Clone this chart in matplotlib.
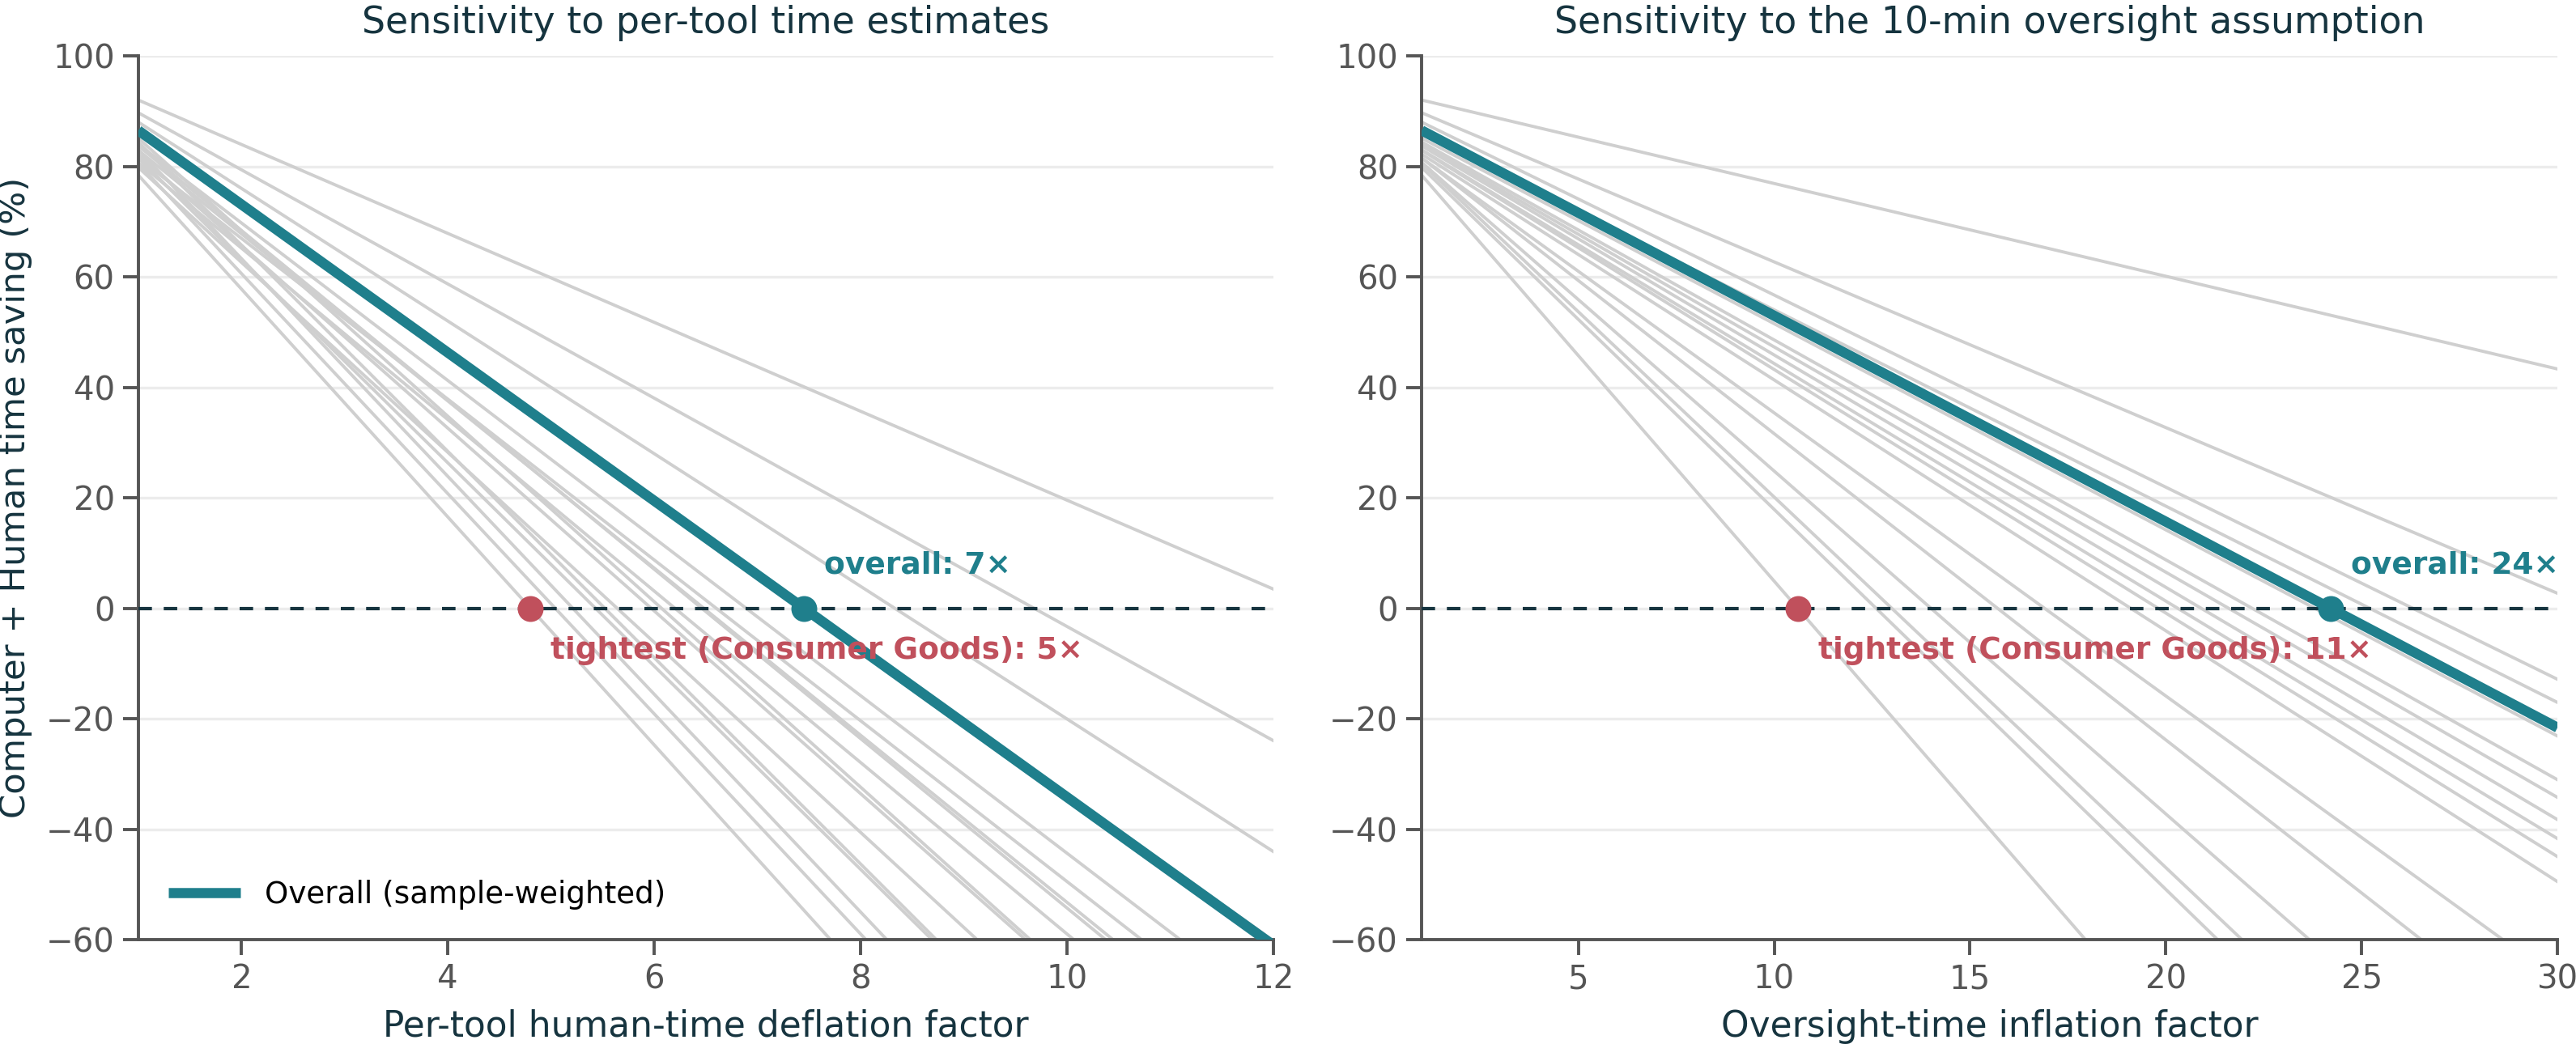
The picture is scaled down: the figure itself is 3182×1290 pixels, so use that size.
import numpy as np
import matplotlib
matplotlib.use("Agg")
from matplotlib import pyplot as plt

# baseline saving (%) at factor = 1, one entry per category
baseline = [92.0, 89.7, 88.0, 86.0, 85.1, 84.4, 84.0, 83.7, 83.0,
            82.9, 82.2, 81.5, 81.5, 80.7, 80.5, 79.8, 78.4]
# break-even factor (saving = 0) per category, per-tool deflation panel
breakeven_tool = [12.43, 9.68, 8.33, 7.47, 6.07, 5.52, 6.89, 6.46, 5.21,
                  6.48, 5.97, 5.43, 6.60, 6.20, 5.04, 5.64, 4.80]
# break-even factor per category, oversight inflation panel
breakeven_oversight = [55.8, 30.9, 26.3, 25.2, 23.8, 22.2, 21.6, 20.9, 20.3,
                       19.8, 19.1, 16.9, 15.7, 14.0, 13.0, 12.6, 10.6]

overall_baseline = 86.5
overall_tool = 7.45
overall_oversight = 24.2
tightest_name = "Consumer Goods"
tightest_idx = 16

TEAL = "#1f7f8c"
RED = "#c0505c"
DARK = "#16343f"
GRAY = "#cfcfcf"

plt.rcParams["font.family"] = "DejaVu Sans"

fig = plt.figure(figsize=(15.91, 6.45), dpi=200)
ax1 = fig.add_axes([0.0537, 0.100, 0.4406, 0.8465])
ax2 = fig.add_axes([0.5519, 0.100, 0.4409, 0.8465])


def saving(s0, b, f):
    return s0 * (b - f) / (b - 1.0)


def panel(ax, xmax, breakevens, overall_b, title, xlabel, xticks):
    f = np.array([1.0, xmax])
    for s0, b in zip(baseline, breakevens):
        ax.plot(f, saving(s0, b, f), color=GRAY, lw=1.4, zorder=2)
    ax.plot(f, saving(overall_baseline, overall_b, f), color=TEAL, lw=4.5,
            zorder=4, label="Overall (sample-weighted)", solid_capstyle="butt")
    ax.axhline(0, color=DARK, lw=1.5, ls=(0, (4, 3.5)), zorder=3)

    tb = breakevens[tightest_idx]
    ax.plot([tb], [0], "o", color=RED, ms=10.5, zorder=5)
    ax.plot([overall_b], [0], "o", color=TEAL, ms=10.5, zorder=5)
    ax.annotate(f"overall: {overall_b:.0f}\u00d7", (overall_b, 0),
                xytext=(9, 19), textcoords="offset points", va="center",
                color=TEAL, fontsize=13.5, fontweight="bold", zorder=6)
    ax.annotate(f"tightest ({tightest_name}): {tb:.0f}\u00d7", (tb, 0),
                xytext=(9, -19), textcoords="offset points", va="center",
                color=RED, fontsize=13.5, fontweight="bold", zorder=6)

    ax.set_xlim(1, xmax)
    ax.set_ylim(-60, 100)
    ax.set_xticks(xticks)
    ax.set_yticks(range(-60, 101, 20))
    ax.grid(axis="y", color="#ececec", lw=1.2, zorder=0)
    ax.set_axisbelow(True)
    for s in ("top", "right"):
        ax.spines[s].set_visible(False)
    for s in ("left", "bottom"):
        ax.spines[s].set_color("#555555")
        ax.spines[s].set_linewidth(1.4)
    ax.tick_params(colors="#555555", labelsize=14.5, length=7, width=1.4)
    ax.set_title(title, fontsize=16.5, color=DARK, pad=10)
    ax.set_xlabel(xlabel, fontsize=15.8, color=DARK, labelpad=6)


panel(ax1, 12, breakeven_tool, overall_tool,
      "Sensitivity to per-tool time estimates",
      "Per-tool human-time deflation factor", range(2, 13, 2))
panel(ax2, 30, breakeven_oversight, overall_oversight,
      "Sensitivity to the 10-min oversight assumption",
      "Oversight-time inflation factor", range(5, 31, 5))

ax1.set_ylabel("Computer + Human time saving (%)", fontsize=15.6, color=DARK,
               labelpad=6)
ax1.legend(loc="lower left", frameon=False, fontsize=13.4, handlelength=2.4,
           borderaxespad=0.6)

fig.savefig("out.png", dpi=200)
